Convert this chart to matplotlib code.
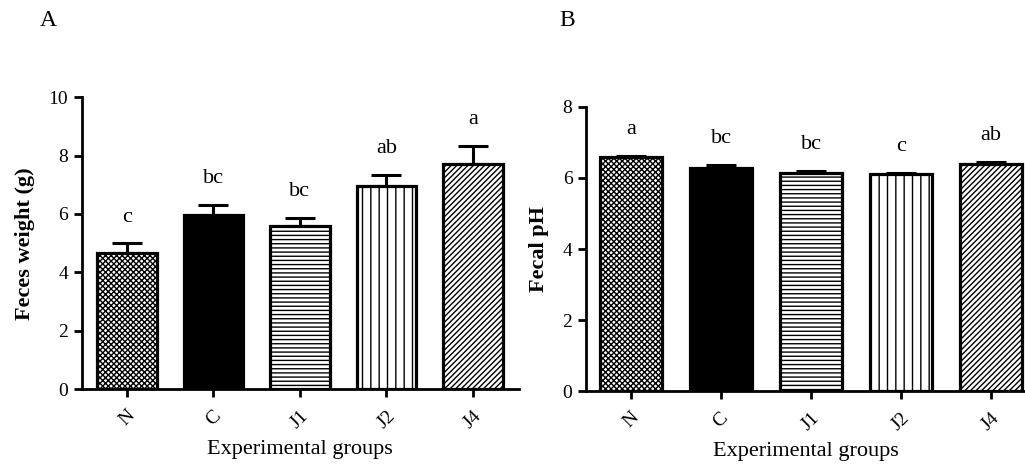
import matplotlib.pyplot as plt
import numpy as np

plt.rcParams['font.family'] = ['Liberation Serif', 'DejaVu Serif']
plt.rcParams['hatch.linewidth'] = 1.0

groups = ['N', 'C', 'J1', 'J2', 'J4']
hatches = ['xxxxxx', '', '----', '||', '//////']
colors = ['white', 'black', 'white', 'white', 'white']

# panel A: feces weight
weight = [4.67, 5.96, 5.59, 6.95, 7.70]
weight_err = [0.32, 0.34, 0.26, 0.40, 0.62]
weight_sig = ['c', 'bc', 'bc', 'ab', 'a']

# panel B: fecal pH
ph = [6.60, 6.27, 6.15, 6.10, 6.39]
ph_err = [0.02, 0.10, 0.05, 0.05, 0.07]
ph_sig = ['a', 'bc', 'bc', 'c', 'ab']


def draw_panel(ax, vals, errs, sig, ylabel, ymax, xlim):
    x = np.arange(len(groups))
    for i in range(len(groups)):
        ax.bar(x[i], vals[i], width=0.69, color=colors[i], edgecolor='black',
               linewidth=2.3, hatch=hatches[i], zorder=2)
    ax.errorbar(x, vals, yerr=[np.zeros(len(vals)), errs], fmt='none',
                ecolor='black', elinewidth=2.2, capsize=11, capthick=2.2, zorder=1)
    for i in range(len(groups)):
        ax.annotate(sig[i], (x[i], vals[i] + errs[i]), xytext=(0, 19),
                    textcoords='offset points', ha='center', va='center', fontsize=16)
    ax.set_ylim(0, ymax)
    ax.set_xlim(*xlim)
    ax.set_yticks(np.arange(0, ymax + 1, 2))
    ax.set_xticks(x)
    ax.set_xticklabels(groups, rotation=45, ha='center')
    ax.spines['top'].set_visible(False)
    ax.spines['right'].set_visible(False)
    ax.spines['left'].set_linewidth(2)
    ax.spines['bottom'].set_linewidth(2)
    ax.tick_params(width=2, length=6, labelsize=14, colors='black', pad=4)
    ax.tick_params(axis='x', pad=7)
    ax.set_ylabel(ylabel, fontsize=16, fontweight='bold', labelpad=10)
    ax.set_xlabel('Experimental groups', fontsize=16, labelpad=6)


fig = plt.figure(figsize=(10.25, 4.65), dpi=100)
ax1 = fig.add_axes([0.080, 0.163, 0.426, 0.628])
ax2 = fig.add_axes([0.572, 0.159, 0.428, 0.611])

draw_panel(ax1, weight, weight_err, weight_sig, 'Feces weight (g)', 10, (-0.52, 4.53))
draw_panel(ax2, ph, ph_err, ph_sig, 'Fecal pH', 8, (-0.5, 4.38))

fig.text(0.047, 0.955, 'A', fontsize=17, ha='center', va='center')
fig.text(0.553, 0.955, 'B', fontsize=17, ha='center', va='center')

plt.savefig('out.png', dpi=100)
